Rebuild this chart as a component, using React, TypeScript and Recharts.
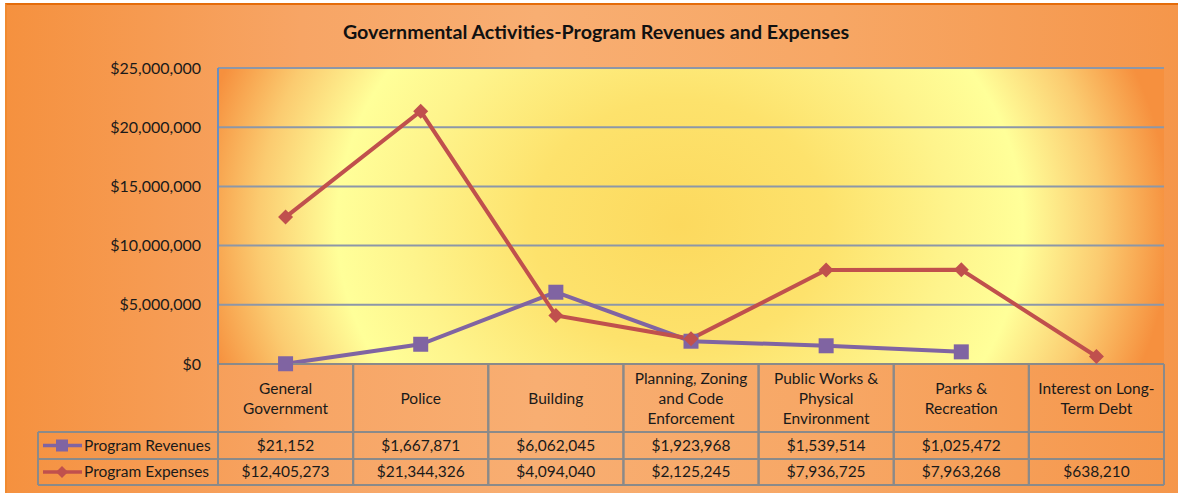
import React from 'react';
import { LineChart, Line, XAxis, YAxis, CartesianGrid } from 'recharts';

const CATEGORIES = [
  'General Government',
  'Police',
  'Building',
  'Planning, Zoning and Code Enforcement',
  'Public Works & Physical Environment',
  'Parks & Recreation',
  'Interest on Long-Term Debt',
];

// how each category label breaks in its table cell
const CATEGORY_LINES = [
  ['General', 'Government'],
  ['Police'],
  ['Building'],
  ['Planning, Zoning', 'and Code', 'Enforcement'],
  ['Public Works &', 'Physical', 'Environment'],
  ['Parks &', 'Recreation'],
  ['Interest on Long-', 'Term Debt'],
];

const REVENUES: (number | null)[] = [21152, 1667871, 6062045, 1923968, 1539514, 1025472, null];
const EXPENSES: (number | null)[] = [12405273, 21344326, 4094040, 2125245, 7936725, 7963268, 638210];

const Y_TICKS = [0, 5000000, 10000000, 15000000, 20000000, 25000000];

const data = CATEGORIES.map((name, i) => ({
  name,
  revenues: REVENUES[i],
  expenses: EXPENSES[i],
}));

const W = 1178;
const H = 493;
const PLOT_LEFT = 218;
const PLOT_RIGHT = 1164;
const PLOT_TOP = 68;
const PLOT_BOTTOM = 364;
const ROW1 = 432;
const ROW2 = 459;
const TABLE_BOTTOM = 485;
const LEGEND_LEFT = 38;
const COL_W = (PLOT_RIGHT - PLOT_LEFT) / CATEGORIES.length;

const FONT = 'Lato, "Open Sans", sans-serif';
const FS = 15.5;
const TEXT = '#1a1a1a';
const GRID = '#8a8a8a';
const PURPLE = '#8064A2';
const RED = '#C0504D';

const money = (v: number) => '$' + v.toLocaleString('en-US');

function SquareDot(props: any) {
  const { cx, cy, value } = props;
  if (value == null || cx == null || cy == null) return null;
  return <rect x={cx - 7.5} y={cy - 7.5} width={15} height={15} fill={PURPLE} />;
}

function DiamondDot(props: any) {
  const { cx, cy, value } = props;
  if (value == null || cx == null || cy == null) return null;
  const r = 7.5;
  return <path d={`M${cx},${cy - r}L${cx + r},${cy}L${cx},${cy + r}L${cx - r},${cy}Z`} fill={RED} />;
}

function TableColumn(props: any) {
  const { x, payload, index } = props;
  const left = x - COL_W / 2;
  const lines = CATEGORY_LINES[index] || [payload.value];
  const mid = (PLOT_BOTTOM + ROW1) / 2;
  const startY = mid - ((lines.length - 1) * 20) / 2;
  const rev = REVENUES[index];
  const exp = EXPENSES[index];
  return (
    <g>
      <line x1={left} y1={PLOT_BOTTOM} x2={left} y2={TABLE_BOTTOM} stroke={GRID} strokeWidth={2} />
      <line x1={left + COL_W} y1={PLOT_BOTTOM} x2={left + COL_W} y2={TABLE_BOTTOM} stroke={GRID} strokeWidth={2} />
      {lines.map((l: string, i: number) => (
        <text key={i} x={x} y={startY + i * 20} textAnchor="middle" dominantBaseline="central"
          fontFamily={FONT} fontSize={FS} fill={TEXT}>{l}</text>
      ))}
      {rev != null && (
        <text x={x} y={(ROW1 + ROW2) / 2 - 1} textAnchor="middle" dominantBaseline="central"
          fontFamily={FONT} fontSize={FS} fill={TEXT}>{money(rev)}</text>
      )}
      {exp != null && (
        <text x={x} y={(ROW2 + TABLE_BOTTOM) / 2 - 1} textAnchor="middle" dominantBaseline="central"
          fontFamily={FONT} fontSize={FS} fill={TEXT}>{money(exp)}</text>
      )}
    </g>
  );
}

export default function App() {
  const r1 = (ROW1 + ROW2) / 2;
  const r2 = (ROW2 + TABLE_BOTTOM) / 2;
  return (
    <div style={{ position: 'absolute', left: 0, top: 0, width: W, height: H, background: '#fff', overflow: 'hidden' }}>
      <div style={{
        position: 'absolute', left: 5, top: 3, width: W, height: H,
        borderTop: '2px solid #E46C0A', borderLeft: '2px solid #F08a30',
        background: 'linear-gradient(90deg, #F5913F 0%, #F7A565 25%, #F8AE72 45%, #F7A765 70%, #F5964A 100%)',
      }} />
      <svg style={{ position: 'absolute', left: 0, top: 0 }} width={W} height={H}>
        <text x={596} y={31} textAnchor="middle" dominantBaseline="central" fontFamily={FONT}
          fontWeight={700} fontSize={19.7} fill="#111">Governmental Activities-Program Revenues and Expenses</text>
        {/* legend column of the data table */}
        <line x1={LEGEND_LEFT} y1={ROW1} x2={PLOT_LEFT} y2={ROW1} stroke={GRID} strokeWidth={2} />
        <line x1={LEGEND_LEFT} y1={ROW2} x2={PLOT_LEFT} y2={ROW2} stroke={GRID} strokeWidth={2} />
        <line x1={LEGEND_LEFT} y1={TABLE_BOTTOM} x2={PLOT_LEFT} y2={TABLE_BOTTOM} stroke={GRID} strokeWidth={2} />
        <line x1={LEGEND_LEFT} y1={ROW1} x2={LEGEND_LEFT} y2={TABLE_BOTTOM} stroke={GRID} strokeWidth={2} />
        <line x1={PLOT_LEFT} y1={ROW1} x2={PLOT_LEFT} y2={TABLE_BOTTOM} stroke={GRID} strokeWidth={2} />
        <line x1={43} y1={r1} x2={82} y2={r1} stroke={PURPLE} strokeWidth={3.5} />
        <rect x={56} y={r1 - 6} width={12} height={12} fill={PURPLE} />
        <text x={84} y={r1 - 1} dominantBaseline="central" fontFamily={FONT} fontSize={FS} fill={TEXT}>Program Revenues</text>
        <line x1={43} y1={r2} x2={82} y2={r2} stroke={RED} strokeWidth={3.5} />
        <path d={`M62,${r2 - 6}l6,6l-6,6l-6,-6z`} fill={RED} />
        <text x={84} y={r2 - 1} dominantBaseline="central" fontFamily={FONT} fontSize={FS} fill={TEXT}>Program Expenses</text>
        <line x1={PLOT_LEFT} y1={ROW1} x2={PLOT_RIGHT} y2={ROW1} stroke={GRID} strokeWidth={2} />
        <line x1={PLOT_LEFT} y1={ROW2} x2={PLOT_RIGHT} y2={ROW2} stroke={GRID} strokeWidth={2} />
        <line x1={PLOT_LEFT} y1={TABLE_BOTTOM} x2={PLOT_RIGHT} y2={TABLE_BOTTOM} stroke={GRID} strokeWidth={2} />
      </svg>
      <div style={{ position: 'absolute', left: 0, top: 0 }}>
        <LineChart width={W} height={H} data={data}
          margin={{ top: PLOT_TOP, right: W - PLOT_RIGHT, bottom: 0, left: 0 }}>
          <defs>
            <radialGradient id="plotFill" gradientUnits="userSpaceOnUse" cx={680} cy={225} r={490}
              gradientTransform="translate(680 225) scale(1 0.85) translate(-680 -225)">
              <stop offset="0%" stopColor="#FCD95E" />
              <stop offset="30%" stopColor="#FDE26C" />
              <stop offset="55%" stopColor="#FEF48C" />
              <stop offset="70%" stopColor="#FFFF99" />
              <stop offset="86%" stopColor="#FBCB70" />
              <stop offset="100%" stopColor="#F6903E" />
            </radialGradient>
          </defs>
          <CartesianGrid vertical={false} stroke="#8C97A8" strokeWidth={2} fill="url(#plotFill)" fillOpacity={1} />
          <XAxis dataKey="name" height={H - PLOT_BOTTOM} axisLine={{ stroke: GRID, strokeWidth: 2 }}
            padding={{ left: COL_W / 2, right: COL_W / 2 }}
            tickLine={false} tickSize={0} tickMargin={0} interval={0} tick={<TableColumn />} />
          <YAxis width={PLOT_LEFT} domain={[0, 25000000]} ticks={Y_TICKS} axisLine={{ stroke: '#6A8FC0', strokeWidth: 2 }}
            tickLine={false} tickSize={0} tickMargin={17} tickFormatter={(v: number) => money(v)}
            tick={{ fontFamily: FONT, fontSize: 16, fill: TEXT }} />
          <YAxis yAxisId="right" orientation="right" width={0} domain={[0, 25000000]} tick={false}
            axisLine={{ stroke: '#6A8FC0', strokeWidth: 2 }} />
          <Line dataKey="revenues" stroke={PURPLE} strokeWidth={4} dot={<SquareDot />} activeDot={false}
            isAnimationActive={false} connectNulls={false} />
          <Line dataKey="expenses" stroke={RED} strokeWidth={4} dot={<DiamondDot />} activeDot={false}
            isAnimationActive={false} />
        </LineChart>
      </div>
    </div>
  );
}
